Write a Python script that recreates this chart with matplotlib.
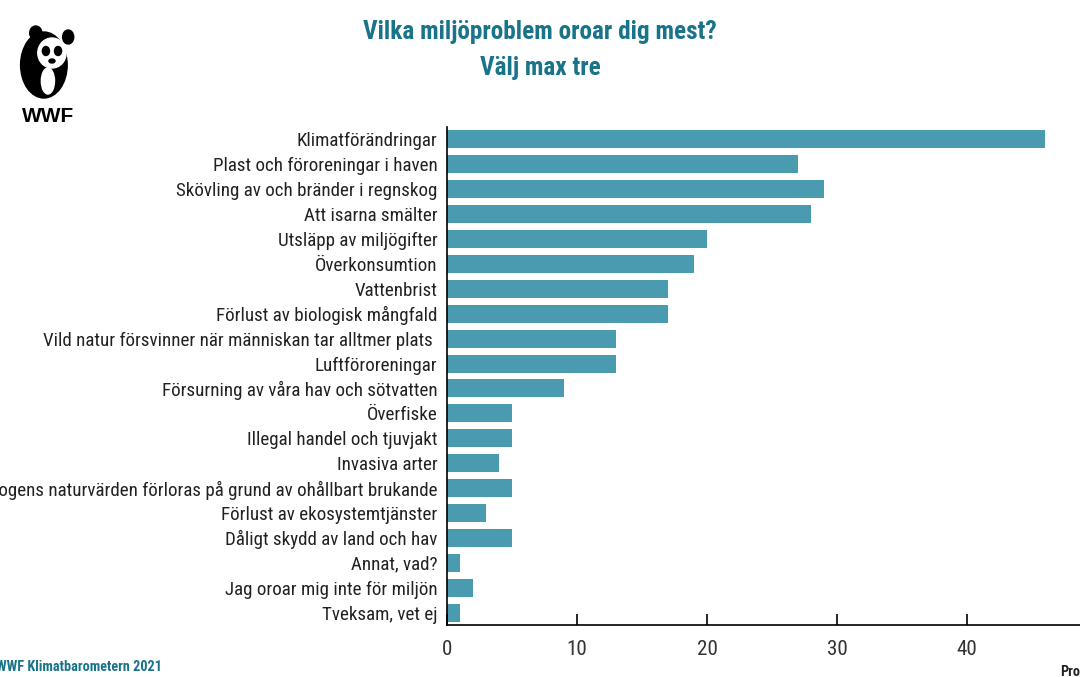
import matplotlib
matplotlib.use("Agg")
import matplotlib.pyplot as plt
from matplotlib.patches import Ellipse
from matplotlib import font_manager

# data (procent)
categories = [
    "Klimatförändringar",
    "Plast och föroreningar i haven",
    "Skövling av och bränder i regnskog",
    "Att isarna smälter",
    "Utsläpp av miljögifter",
    "Överkonsumtion",
    "Vattenbrist",
    "Förlust av biologisk mångfald",
    "Vild natur försvinner när människan tar alltmer plats ",
    "Luftföroreningar",
    "Försurning av våra hav och sötvatten",
    "Överfiske",
    "Illegal handel och tjuvjakt",
    "Invasiva arter",
    "Skogens naturvärden förloras på grund av ohållbart brukande",
    "Förlust av ekosystemtjänster",
    "Dåligt skydd av land och hav",
    "Annat, vad?",
    "Jag oroar mig inte för miljön",
    "Tveksam, vet ej",
]
values = [46, 27, 29, 28, 20, 19, 17, 17, 13, 13, 9, 5, 5, 4, 5, 3, 5, 1, 2, 1]
xticks = [0, 10, 20, 30, 40, 50]

bar_color = "#4b9bb0"
teal = "#1a7489"

# pick a narrow font if there is one
installed = set(f.name for f in font_manager.fontManager.ttflist)
wanted = ["Liberation Sans Narrow", "Roboto Condensed", "Open Sans Condensed",
          "Noto Sans Condensed", "Inter", "Roboto", "Liberation Sans"]
font = [f for f in wanted if f in installed] + ["DejaVu Sans"]
plt.rcParams["font.family"] = font

fig = plt.figure(figsize=(10.8, 6.77), dpi=100)
renderer = fig.canvas.get_renderer()


def size_for(text, px, weight="normal"):
    # fontsize so that text is about px wide
    t = fig.text(0, 0, text, fontsize=10, fontweight=weight)
    w = t.get_window_extent(renderer).width
    t.remove()
    return 10 * px / w


lab_size = min(size_for("Klimatförändringar", 141), 14)
tit_size = min(size_for("Vilka miljöproblem oroar dig mest?", 356, "bold"), 22)
foot_size = min(size_for("WWF Klimatbarometern 2021", 166, "bold"), 14)

ax = fig.add_axes([447 / 1080, 1 - 625 / 677, 650 / 1080, (625 - 127) / 677])

ypos = list(range(len(categories)))
ax.barh(ypos, values, height=0.72, color=bar_color)
ax.set_ylim(19.5, -0.5)
ax.set_xlim(0, 50)
ax.set_yticks(ypos)
ax.set_yticklabels(categories, fontsize=lab_size, color="#222222")
ax.tick_params(axis="y", length=0, pad=7)
ax.set_xticks(xticks)
ax.set_xticklabels([str(t) for t in xticks], fontsize=lab_size + 1.5, color="#333333")
ax.tick_params(axis="x", direction="in", length=8, width=1.2, pad=11)
for s in ["top", "right"]:
    ax.spines[s].set_visible(False)
ax.spines["left"].set_linewidth(1.2)
ax.spines["bottom"].set_linewidth(1.2)

# title
fig.text(0.5, 1 - 32 / 677, "Vilka miljöproblem oroar dig mest?", ha="center", va="center",
         fontsize=tit_size, fontweight="bold", color=teal)
fig.text(0.5, 1 - 68 / 677, "Välj max tre", ha="center", va="center",
         fontsize=tit_size, fontweight="bold", color=teal)

# footer
fig.text(-0.004, 1 - 667 / 677, "WWF Klimatbarometern 2021", ha="left", va="center",
         fontsize=foot_size, fontweight="bold", color=teal)
fig.text(1060 / 1080, 1 - 672 / 677, "Procent", ha="left", va="center",
         fontsize=foot_size, fontweight="bold", color="#222222")

# rough WWF panda logo
lg = fig.add_axes([0.005, 1 - 125 / 677, 0.075, 105 / 677])
lg.set_xlim(0, 80)
lg.set_ylim(0, 105)
lg.axis("off")
lg.add_patch(Ellipse((38, 60), 46, 66, color="black"))
lg.add_patch(Ellipse((46, 72), 28, 30, color="white"))
lg.add_patch(Ellipse((30, 92), 12, 14, color="black"))
lg.add_patch(Ellipse((62, 88), 11, 14, color="black"))
lg.add_patch(Ellipse((40, 74), 7, 9, color="black"))
lg.add_patch(Ellipse((52, 74), 7, 9, color="black"))
lg.add_patch(Ellipse((46, 64), 6, 4, color="black"))
lg.add_patch(Ellipse((42, 44), 13, 26, color="white"))
lg.text(42, 8, "WWF", ha="center", va="center", fontsize=15, fontweight="bold",
        color="black", family=["Liberation Sans", "DejaVu Sans"])

fig.savefig("out.png", dpi=100)
